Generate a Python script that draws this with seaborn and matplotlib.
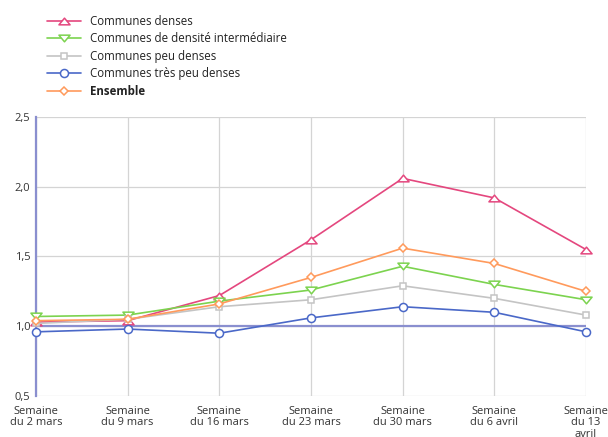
#Import Libraries
import matplotlib
matplotlib.use("Agg")
import matplotlib.pyplot as plt
from matplotlib.path import Path
import pandas as pd
import seaborn as sns

#Data
semaines = ["Semaine\ndu 2 mars", "Semaine\ndu 9 mars", "Semaine\ndu 16 mars",
            "Semaine\ndu 23 mars", "Semaine\ndu 30 mars", "Semaine\ndu 6 avril",
            "Semaine\ndu 13\navril"]
denses = [1.03, 1.04, 1.22, 1.62, 2.06, 1.92, 1.55]
intermediaire = [1.07, 1.08, 1.18, 1.26, 1.43, 1.30, 1.19]
peu_denses = [1.02, 1.05, 1.14, 1.19, 1.29, 1.20, 1.08]
tres_peu_denses = [0.96, 0.98, 0.95, 1.06, 1.14, 1.10, 0.96]
ensemble = [1.04, 1.05, 1.16, 1.35, 1.56, 1.45, 1.25]

#Flat triangles like the original chart
tri_up = Path([(-0.5, -0.3), (0.5, -0.3), (0, 0.3), (-0.5, -0.3)],
              [Path.MOVETO, Path.LINETO, Path.LINETO, Path.CLOSEPOLY])
tri_down = Path([(-0.5, 0.3), (0.5, 0.3), (0, -0.3), (-0.5, 0.3)],
                [Path.MOVETO, Path.LINETO, Path.LINETO, Path.CLOSEPOLY])

series = [
    ("Communes denses", denses, "#e4477e", tri_up, 8),
    ("Communes de densité intermédiaire", intermediaire, "#7cd34f", tri_down, 8),
    ("Communes peu denses", peu_denses, "#c4c4c4", "s", 4.5),
    ("Communes très peu denses", tres_peu_denses, "#4a68c8", "o", 5.8),
    ("Ensemble", ensemble, "#ff9a5c", "D", 4.3),
]

sns.set_style("white")
plt.rcParams["font.family"] = ["Open Sans", "DejaVu Sans"]

fig = plt.figure(figsize=(6.08, 4.37), dpi=100)
ax = fig.add_axes([36/608, 1-396/437, 550/608, 279/437])

x = list(range(len(semaines)))
for name, vals, col, mk, ms in series:
    df = pd.DataFrame({"x": x, "y": vals})
    sns.lineplot(data=df, x="x", y="y", ax=ax, color=col, marker=mk,
                 markersize=ms, markerfacecolor="white", markeredgecolor=col,
                 markeredgewidth=1.1, linewidth=1.2, label=name, zorder=3,
                 clip_on=False)

#Reference line at 1
ax.axhline(1.0, color="#8a8fcf", linewidth=1.6, zorder=2)

ax.set_xlim(0, len(semaines) - 1)
ax.set_ylim(0.5, 2.5)
ax.set_xticks(x)
ax.set_xticklabels(semaines, fontsize=8, color="#333333", linespacing=1.05)
ax.set_yticks([0.5, 1.0, 1.5, 2.0, 2.5])
ax.set_yticklabels(["0,5", "1,0", "1,5", "2,0", "2,5"], fontsize=8, color="#333333")
ax.set_xlabel("")
ax.set_ylabel("")
ax.grid(True, color="#d4d4d4", linewidth=0.9, zorder=0)
ax.set_axisbelow(True)
ax.tick_params(axis="x", length=4, color="#cccccc", pad=3)
ax.tick_params(axis="y", length=0, pad=4)
for s in ["top", "right", "bottom"]:
    ax.spines[s].set_visible(False)
ax.spines["left"].set_color("#8a8fcf")
ax.spines["left"].set_linewidth(1.6)

leg = ax.legend(loc="upper left", bbox_to_anchor=(42/608, 1-10/437),
                bbox_transform=fig.transFigure, frameon=False, fontsize=8.3,
                handlelength=3.0, handletextpad=0.75, labelspacing=0.4,
                borderaxespad=0)
for t in leg.get_texts():
    t.set_color("#222222")
    if t.get_text() == "Ensemble":
        t.set_fontweight("bold")

fig.savefig("out.png", dpi=100)
